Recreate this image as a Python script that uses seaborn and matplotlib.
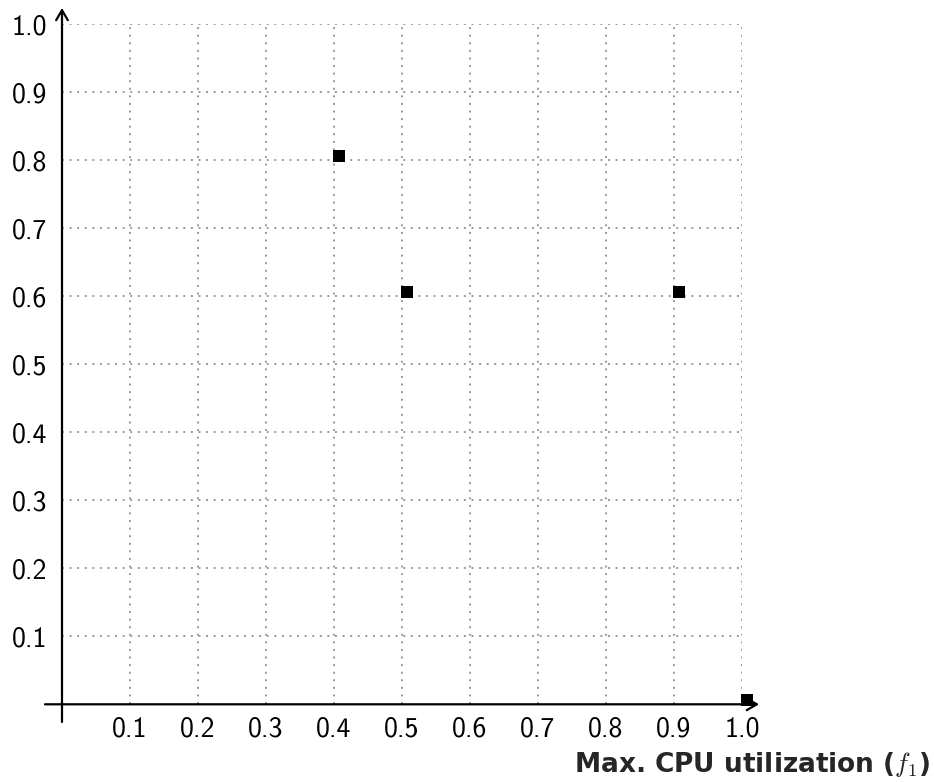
import matplotlib
matplotlib.use("Agg")
import matplotlib.pyplot as plt
import seaborn as sns
import pandas as pd

# data
cpu_util = [0.408, 0.508, 0.908, 1.008]
objective2 = [0.807, 0.607, 0.607, 0.007]
x_ticks = [0.1, 0.2, 0.3, 0.4, 0.5, 0.6, 0.7, 0.8, 0.9, 1.0]
y_ticks = [0.1, 0.2, 0.3, 0.4, 0.5, 0.6, 0.7, 0.8, 0.9, 1.0]
tick_labels = ["0.1", "0.2", "0.3", "0.4", "0.5", "0.6", "0.7", "0.8", "0.9", "1.0"]
x_label = r"Max. CPU utilization ($f_1$)"

sns.set_theme(style="white")
plt.rcParams["font.family"] = ["cmss10", "DejaVu Sans"]
plt.rcParams["mathtext.fontset"] = "cm"
plt.rcParams["axes.unicode_minus"] = False

df = pd.DataFrame({"f1": cpu_util, "f2": objective2})

fig = plt.figure(figsize=(9.34, 7.82), dpi=100)
ax = fig.add_axes([62 / 934, (782 - 704.3) / 782, 680 / 934, 680 / 782])
ax.set_facecolor("white")

ax.set_xlim(0, 1)
ax.set_ylim(0, 1)
for s in ax.spines.values():
    s.set_visible(False)

ax.set_xticks(x_ticks)
ax.set_xticklabels(tick_labels)
ax.set_yticks(y_ticks)
ax.set_yticklabels(tick_labels)
ax.tick_params(axis="both", labelsize=20, colors="black", direction="inout",
               length=5, width=0.8)
ax.tick_params(axis="x", pad=6)
ax.tick_params(axis="y", pad=8)

ax.grid(True, color="#9a9a9a", linestyle=(0, (1, 2.9)), linewidth=1.4)
ax.set_axisbelow(True)

sns.scatterplot(data=df, x="f1", y="f2", marker="s", s=80, color="black",
                edgecolor="black", linewidth=0, clip_on=False, zorder=5, ax=ax,
                legend=False)
ax.set_xlabel("")
ax.set_ylabel("")

arrow = dict(arrowstyle="->,head_length=0.6,head_width=0.35", lw=1.6,
             color="black", shrinkA=0, shrinkB=0)
ax.annotate("", xy=(1.025, 0), xytext=(-0.025, 0), xycoords="data",
            arrowprops=arrow, annotation_clip=False, zorder=4)
ax.annotate("", xy=(0, 1.024), xytext=(0, -0.026), xycoords="data",
            arrowprops=arrow, annotation_clip=False, zorder=4)

fig.text(931 / 934, 1 - 772 / 782, x_label, ha="right", va="baseline",
         fontsize=19, fontweight="bold", family=["DejaVu Sans"])

fig.savefig("out.png", dpi=100, facecolor="white")
